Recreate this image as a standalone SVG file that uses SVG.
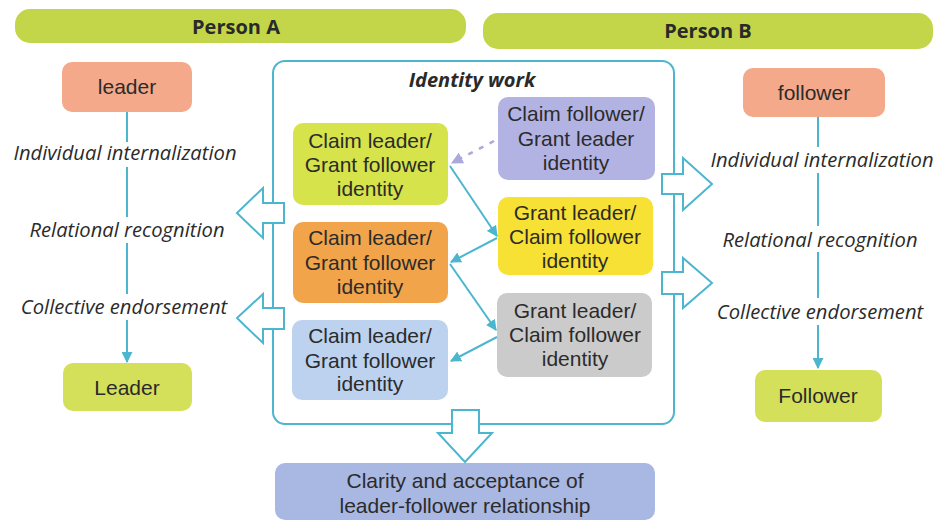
<svg xmlns="http://www.w3.org/2000/svg" width="939" height="522" viewBox="0 0 939 522">
  <defs>
    <marker id="tealHead" viewBox="0 0 10 10" refX="9" refY="5" markerWidth="11" markerHeight="11" markerUnits="userSpaceOnUse" orient="auto">
      <path d="M0,0 L10,5 L0,10 z" fill="#4db6cf"/>
    </marker>
    <marker id="tealHeadS" viewBox="0 0 10 10" refX="9" refY="5" markerWidth="11" markerHeight="11" markerUnits="userSpaceOnUse" orient="auto">
      <path d="M0,0 L10,5 L0,10 z" fill="#4db6cf"/>
    </marker>
    <marker id="lavHead" viewBox="0 0 10 10" refX="9" refY="5" markerWidth="12" markerHeight="12" markerUnits="userSpaceOnUse" orient="auto">
      <path d="M0,0 L10,5 L0,10 z" fill="#a9a9dc"/>
    </marker>
  </defs>
  <style>
    .bar { fill: #c3d64a; }
    .bar-t { font-family: "Open Sans", "Liberation Sans", sans-serif; font-weight: bold; font-size: 20px; fill: #2a2a2a; text-anchor: middle; }
    .box-t { font-family: "Liberation Sans", Arial, sans-serif; font-size: 21px; fill: #2b2b2b; text-anchor: middle; }
    .lab { font-family: "Open Sans", "Liberation Sans", sans-serif; font-style: italic; font-size: 20.2px; fill: #2b2b2b; text-anchor: middle; }
    .frame { fill: none; stroke: #4db6cf; stroke-width: 2; }
    .block { fill: #ffffff; stroke: #4db6cf; stroke-width: 2; stroke-linejoin: miter; }
    .flow { fill: none; stroke: #4db6cf; stroke-width: 2; }
    .dash { fill: none; stroke: #a9a9dc; stroke-width: 2.5; stroke-dasharray: 5 7; }
  </style>

  <rect width="939" height="522" fill="#ffffff"/>

  <!-- Person headers -->
  <g id="personA">
    <rect class="bar" x="15" y="9" width="451" height="34" rx="15"/>
    <text class="bar-t" x="236" y="34">Person A</text>
  </g>
  <g id="personB">
    <rect class="bar" x="483" y="13" width="450" height="36" rx="15"/>
    <text class="bar-t" x="708" y="38">Person B</text>
  </g>

  <!-- Identity work frame -->
  <g id="identityWork">
    <rect class="frame" x="273" y="61" width="401" height="363" rx="12"/>
    <text x="472" y="87" font-family="'Open Sans', 'Liberation Sans', sans-serif" font-weight="bold" font-style="italic" font-size="20px" fill="#2a2a2a" text-anchor="middle">Identity work</text>
  </g>

  <!-- Person A column -->
  <g id="leaderStart">
    <rect x="62" y="62" width="130" height="50" rx="10" fill="#f3a98a"/>
    <text class="box-t" x="127" y="94">leader</text>
  </g>
  <g id="leaderEnd">
    <rect x="63" y="363" width="129" height="48" rx="10" fill="#d4e05a"/>
    <text class="box-t" x="127" y="395">Leader</text>
  </g>
  <g id="leftLabels">
    <text class="lab" x="125" y="160">Individual internalization</text>
    <text class="lab" x="127" y="237">Relational recognition</text>
    <text class="lab" x="124" y="314">Collective endorsement</text>
  </g>

  <!-- Person B column -->
  <g id="followerStart">
    <rect x="743" y="68" width="142" height="49" rx="10" fill="#f3a98a"/>
    <text class="box-t" x="814" y="100">follower</text>
  </g>
  <g id="followerEnd">
    <rect x="755" y="370" width="127" height="52" rx="10" fill="#d4e05a"/>
    <text class="box-t" x="818" y="403">Follower</text>
  </g>
  <g id="rightLabels">
    <text class="lab" x="822" y="167">Individual internalization</text>
    <text class="lab" x="820" y="247">Relational recognition</text>
    <text class="lab" x="820" y="319">Collective endorsement</text>
  </g>

  <!-- Identity claims and grants -->
  <g id="claimLeader1">
    <rect x="293" y="123" width="155" height="82" rx="10" fill="#d6e34a"/>
    <text class="box-t" x="370" y="148">Claim leader/</text>
    <text class="box-t" x="370" y="172">Grant follower</text>
    <text class="box-t" x="370" y="196">identity</text>
  </g>
  <g id="claimFollower">
    <rect x="498" y="97" width="157" height="83" rx="10" fill="#b3b3e3"/>
    <text class="box-t" x="576" y="121">Claim follower/</text>
    <text class="box-t" x="576" y="146">Grant leader</text>
    <text class="box-t" x="576" y="170">identity</text>
  </g>
  <g id="grantLeader1">
    <rect x="498" y="197" width="155" height="78" rx="10" fill="#f8e135"/>
    <text class="box-t" x="575" y="220">Grant leader/</text>
    <text class="box-t" x="575" y="244">Claim follower</text>
    <text class="box-t" x="575" y="268">identity</text>
  </g>
  <g id="claimLeader2">
    <rect x="293" y="222" width="155" height="81" rx="10" fill="#f2a44a"/>
    <text class="box-t" x="370" y="245">Claim leader/</text>
    <text class="box-t" x="370" y="270">Grant follower</text>
    <text class="box-t" x="370" y="294">identity</text>
  </g>
  <g id="grantLeader2">
    <rect x="497" y="293" width="155" height="84" rx="10" fill="#cbcbcb"/>
    <text class="box-t" x="575" y="318">Grant leader/</text>
    <text class="box-t" x="575" y="342">Claim follower</text>
    <text class="box-t" x="575" y="366">identity</text>
  </g>
  <g id="claimLeader3">
    <rect x="292" y="320" width="156" height="80" rx="10" fill="#bcd2ef"/>
    <text class="box-t" x="370" y="343">Claim leader/</text>
    <text class="box-t" x="370" y="368">Grant follower</text>
    <text class="box-t" x="370" y="391">identity</text>
  </g>

  <!-- Outcome -->
  <g id="outcome">
    <rect x="275" y="463" width="380" height="57" rx="10" fill="#a9b7e3"/>
    <text class="box-t" x="465" y="488">Clarity and acceptance of</text>
    <text class="box-t" x="465" y="513">leader-follower relationship</text>
  </g>

  <!-- Connectors -->
  <g id="connectors">
    <!-- Person A progression -->
    <line class="flow" x1="127" y1="112" x2="127" y2="142"/>
    <line class="flow" x1="127" y1="167" x2="127" y2="217"/>
    <line class="flow" x1="127" y1="243" x2="127" y2="294"/>
    <line class="flow" x1="127" y1="320" x2="127" y2="362" marker-end="url(#tealHeadS)"/>
    <!-- Person B progression -->
    <line class="flow" x1="818" y1="117" x2="818" y2="147"/>
    <line class="flow" x1="818" y1="173" x2="818" y2="226"/>
    <line class="flow" x1="818" y1="252" x2="818" y2="298"/>
    <line class="flow" x1="818" y1="325" x2="818" y2="368" marker-end="url(#tealHeadS)"/>

    <!-- Identity work cycle -->
    <line class="dash" x1="494" y1="141" x2="452" y2="163" marker-end="url(#lavHead)"/>
    <line class="flow" x1="450" y1="166" x2="497" y2="236" marker-end="url(#tealHead)"/>
    <line class="flow" x1="497" y1="238" x2="451" y2="262" marker-end="url(#tealHead)"/>
    <line class="flow" x1="450" y1="264" x2="496" y2="330" marker-end="url(#tealHead)"/>
    <line class="flow" x1="497" y1="337" x2="451" y2="361" marker-end="url(#tealHead)"/>

    <!-- Block arrows out of the frame -->
    <polygon class="block" points="284,203 263,203 263,188 237,213 263,238 263,223 284,223"/>
    <polygon class="block" points="284,308 263,308 263,294 237,318 263,343 263,329 284,329"/>
    <polygon class="block" points="662,174 683,174 683,158 712,184 683,210 683,194 662,194"/>
    <polygon class="block" points="662,272 683,272 683,258 712,283 683,308 683,294 662,294"/>
    <polygon class="block" points="452,410 479,410 479,433 492,433 465,462 438,433 452,433"/>
  </g>
</svg>
